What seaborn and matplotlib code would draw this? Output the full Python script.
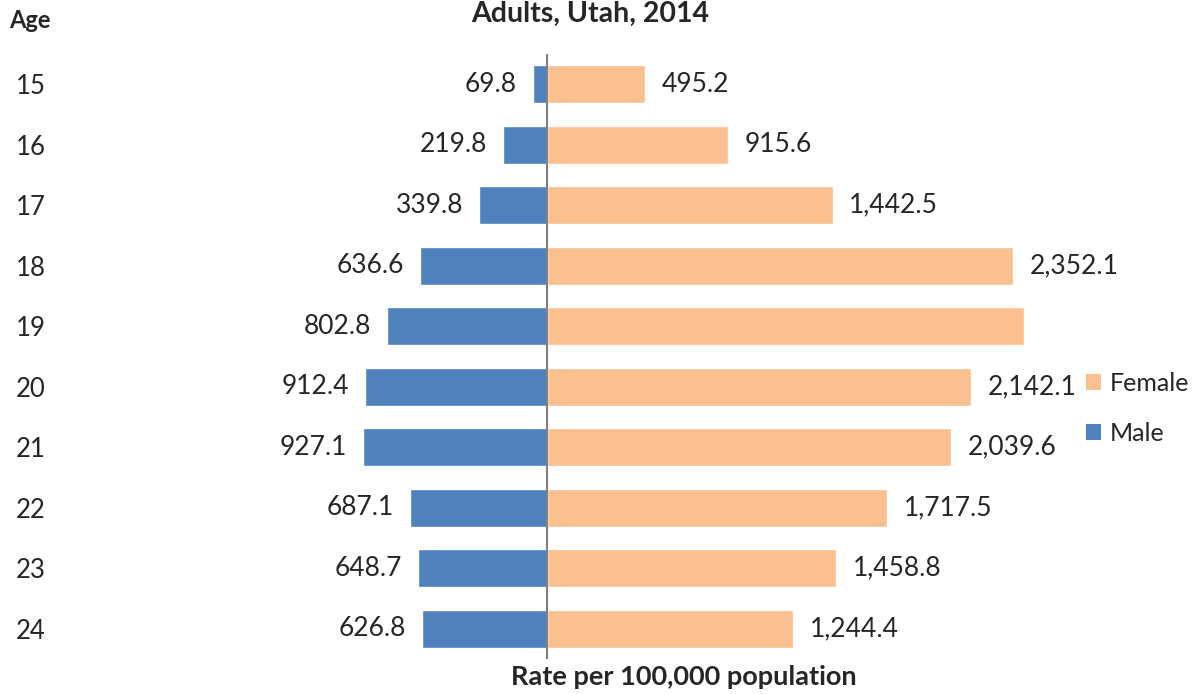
import matplotlib
matplotlib.use("Agg")
import matplotlib.pyplot as plt
import seaborn as sns
import pandas as pd
from matplotlib.patches import Patch

ages = ["15", "16", "17", "18", "19", "20", "21", "22", "23", "24"]
male = [69.8, 219.8, 339.8, 636.6, 802.8, 912.4, 927.1, 687.1, 648.7, 626.8]
female = [495.2, 915.6, 1442.5, 2352.1, 2409.0, 2142.1, 2039.6, 1717.5, 1458.8, 1244.4]
female_labels = ["495.2", "915.6", "1,442.5", "2,352.1", "", "2,142.1", "2,039.6", "1,717.5", "1,458.8", "1,244.4"]
male_labels = ["69.8", "219.8", "339.8", "636.6", "802.8", "912.4", "927.1", "687.1", "648.7", "626.8"]

title = "Adults, Utah, 2014"
xlabel = "Rate per 100,000 population"

sns.set_theme(style="white")
plt.rcParams["font.family"] = ["Lato", "DejaVu Sans"]

W, H = 1195, 694
fig = plt.figure(figsize=(W / 100, H / 100), dpi=100)
left_px, right_px = 51, 1051
top_px, bot_px = 54, 659
ax = fig.add_axes([left_px / W, (H - bot_px) / H, (right_px - left_px) / W, (bot_px - top_px) / H])

df = pd.DataFrame({
    "Age": ages * 2,
    "Sex": ["Female"] * len(ages) + ["Male"] * len(ages),
    "Value": female + [-v for v in male],
})

blue = "#4F81BD"
orange = "#FAC090"
sns.barplot(data=df, y="Age", x="Value", hue="Sex", order=ages, hue_order=["Female", "Male"],
            palette={"Female": orange, "Male": blue}, dodge=False, width=0.63,
            orient="h", ax=ax, legend=False, saturation=1)

# scale: 0.1984 px per unit, center at 546.5 px
scale = 0.1984
xmin = -(546.5 - left_px) / scale
ax.set_xlim(xmin, xmin + (right_px - left_px) / scale)
ax.set_ylim(len(ages) - 0.5, -0.5)

ax.axvline(0, color="#808080", lw=1.5, zorder=5)

cont_f, cont_m = ax.containers[0], ax.containers[1]
ax.bar_label(cont_f, labels=female_labels, padding=12, fontsize=19)
ax.bar_label(cont_m, labels=male_labels, padding=11.5, fontsize=19)

for s in ax.spines.values():
    s.set_visible(False)
ax.set_xticks([])
ax.tick_params(axis="y", length=0, pad=4, labelsize=18.5)
for t in ax.get_yticklabels():
    t.set_horizontalalignment("right")
ax.set_ylabel("")
ax.set_xlabel("")

fig.text(30 / W, 1 - 20 / H, "Age", ha="center", va="center", fontsize=17, fontweight="bold")
fig.text(590 / W, 1 - 14 / H, title, ha="center", va="center", fontsize=20.5, fontweight="bold")
fig.text(684 / W, 1 - 677 / H, xlabel, ha="center", va="center", fontsize=19.5, fontweight="bold")

handles = [Patch(facecolor=orange, edgecolor="none"), Patch(facecolor=blue, edgecolor="none")]
fig.legend(handles, ["Female", "Male"], loc="upper left",
           bbox_to_anchor=(1086 / W, 1 - 372 / H), frameon=False, fontsize=18,
           borderaxespad=0, borderpad=0,
           handlelength=0.6, handleheight=0.6, handletextpad=0.35, labelspacing=1.08)

fig.savefig("out.png", dpi=100)
